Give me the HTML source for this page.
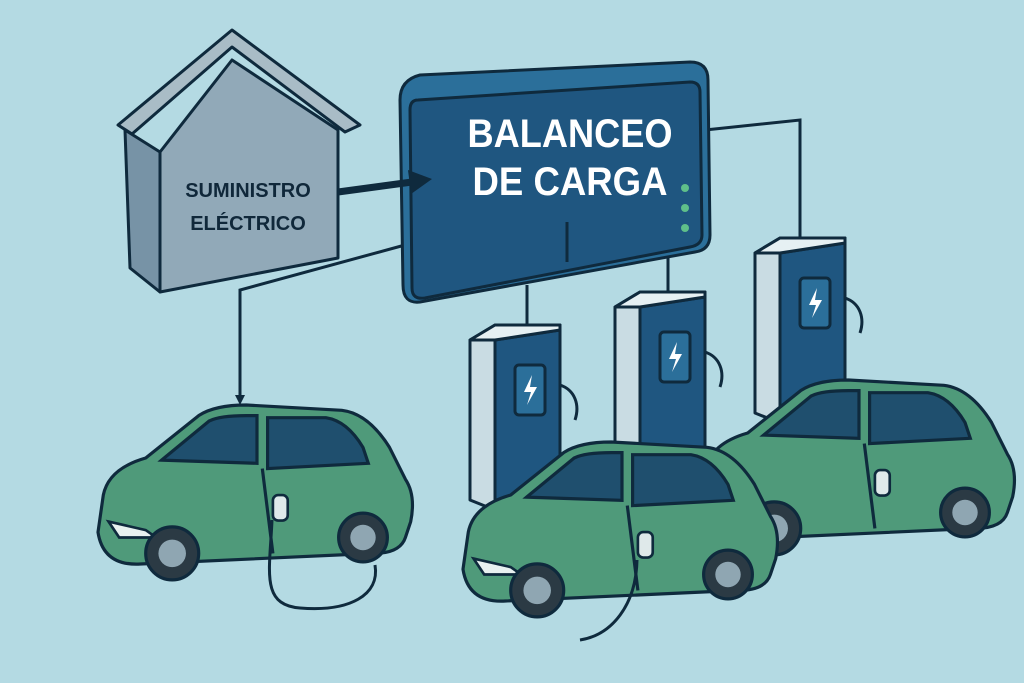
<!DOCTYPE html>
<html><head><meta charset="utf-8"><style>
html,body{margin:0;padding:0;background:#b4dae3;}
svg{display:block}
text{font-family:"Liberation Sans",sans-serif;font-weight:bold}
</style></head><body>
<svg width="1024" height="683" viewBox="0 0 1024 683" xmlns="http://www.w3.org/2000/svg">
<defs>
<marker id="ah" markerWidth="10" markerHeight="10" refX="7" refY="5" orient="auto" markerUnits="userSpaceOnUse">
<path d="M0,0 L10,5 L0,10 Z" fill="#0f2a3d"/></marker>
<g id="charger">
 <polygon points="0,15 25,0 90,0 90,180 25,185 0,175" fill="#c9dce3" stroke="#0f2a3d" stroke-width="3" stroke-linejoin="round"/>
 <polygon points="25,15 90,5 90,180 25,185" fill="#1f5680" stroke="#0f2a3d" stroke-width="3" stroke-linejoin="round"/>
 <polygon points="0,15 25,0 90,0 90,5 25,15" fill="#e6f0f3" stroke="#0f2a3d" stroke-width="3" stroke-linejoin="round"/>
 <rect x="45" y="40" width="30" height="50" rx="4" fill="#2b6f9a" stroke="#0f2a3d" stroke-width="3"/>
 <path d="M62,50 L54,67 L61,67 L57,80 L67,62 L60,62 Z" fill="#fff"/>
 <path d="M90,60 C105,65 110,80 105,95" fill="none" stroke="#0f2a3d" stroke-width="3"/>
</g>
<g id="car">
 <path d="M0,120 L5,85 Q10,60 45,50 L95,10 Q110,0 140,0 L230,5 Q255,8 275,40 L290,70 Q300,85 295,110 L290,125 Q285,140 260,140 L40,150 Q5,152 0,120 Z" fill="#4f9a7a" stroke="#0f2a3d" stroke-width="3" stroke-linejoin="round"/>
 <path d="M60,52 L105,15 Q115,10 140,10 L150,10 L150,55 Z" fill="#1f4f6e" stroke="#0f2a3d" stroke-width="3"/>
 <path d="M160,12 L215,12 Q235,15 250,40 L255,55 L160,60 Z" fill="#1f4f6e" stroke="#0f2a3d" stroke-width="3"/>
 <line x1="155" y1="60" x2="165" y2="140" stroke="#0f2a3d" stroke-width="3"/>
 <path d="M10,110 L45,118 L55,125 L20,125 Z" fill="#e8f1f0" stroke="#0f2a3d" stroke-width="2.5"/>
 <circle cx="70" cy="140" r="25" fill="#2b3a44" stroke="#0f2a3d" stroke-width="3"/>
 <circle cx="70" cy="140" r="13" fill="#8fa6b2"/>
 <circle cx="250" cy="125" r="23" fill="#2b3a44" stroke="#0f2a3d" stroke-width="3"/>
 <circle cx="250" cy="125" r="12" fill="#8fa6b2"/>
 <rect x="165" y="85" width="14" height="24" rx="5" fill="#dfe9ea" stroke="#0f2a3d" stroke-width="2.5"/>
</g>
</defs>

<polygon points="118,125 232,30 360,125 345,132 232,47 132,134" fill="#a9bcc6" stroke="#0f2a3d" stroke-width="3" stroke-linejoin="round"/>
<polygon points="125,130 160,152 160,292 130,268" fill="#7793a6" stroke="#0f2a3d" stroke-width="3" stroke-linejoin="round"/>
<polygon points="160,152 232,60 338,130 338,258 160,292" fill="#91a9b8" stroke="#0f2a3d" stroke-width="3" stroke-linejoin="round"/>
<text x="248" y="197" font-size="20" fill="#10283a" text-anchor="middle">SUMINISTRO</text>
<text x="248" y="230" font-size="20" fill="#10283a" text-anchor="middle">ELÉCTRICO</text>

<polyline points="405,245 240,290 240,402" fill="none" stroke="#0f2a3d" stroke-width="3" marker-end="url(#ah)"/>
<polyline points="705,130 800,120 800,242" fill="none" stroke="#0f2a3d" stroke-width="3"/>
<line x1="527" y1="285" x2="527" y2="330" stroke="#0f2a3d" stroke-width="3"/>
<line x1="668" y1="250" x2="668" y2="295" stroke="#0f2a3d" stroke-width="3"/>

<path d="M400,100 Q400,80 420,75 L690,62 Q708,62 708,80 L710,235 Q710,250 695,252 L420,302 Q403,304 403,285 Z" fill="#2b6f9a" stroke="#0f2a3d" stroke-width="3"/>
<path d="M418,100 L690,82 Q700,82 700,92 L702,235 Q702,245 690,247 L425,298 Q412,300 412,288 L410,110 Q410,100 418,100 Z" fill="#1f5680" stroke="#0f2a3d" stroke-width="3"/>
<line x1="567" y1="222" x2="567" y2="262" stroke="#0f2a3d" stroke-width="3"/>
<text x="570" y="147" font-size="40" fill="#ffffff" text-anchor="middle" textLength="205" lengthAdjust="spacingAndGlyphs">BALANCEO</text>
<text x="570" y="195" font-size="40" fill="#ffffff" text-anchor="middle" textLength="195" lengthAdjust="spacingAndGlyphs">DE CARGA</text>
<circle cx="685" cy="188" r="4" fill="#5fbf8a"/>
<circle cx="685" cy="208" r="4" fill="#5fbf8a"/>
<circle cx="685" cy="228" r="4" fill="#5fbf8a"/>

<line x1="338" y1="192" x2="412" y2="182" stroke="#0f2a3d" stroke-width="7"/>
<path d="M408,170 L432,179 L411,194 Z" fill="#0f2a3d"/>

<use href="#charger" x="755" y="238"/>
<use href="#charger" x="615" y="292"/>
<use href="#charger" x="470" y="325"/>

<use href="#car" transform="translate(700,380) scale(1.06)"/>
<use href="#car" transform="translate(463,442) scale(1.06)"/>
<use href="#car" transform="translate(98,405) scale(1.06)"/>

<path d="M272,520 C270,570 260,605 300,608 C350,612 380,595 375,565" fill="none" stroke="#0f2a3d" stroke-width="3"/>
<path d="M637,560 C636,605 612,635 580,640" fill="none" stroke="#0f2a3d" stroke-width="3"/>
</svg>
</body></html>
